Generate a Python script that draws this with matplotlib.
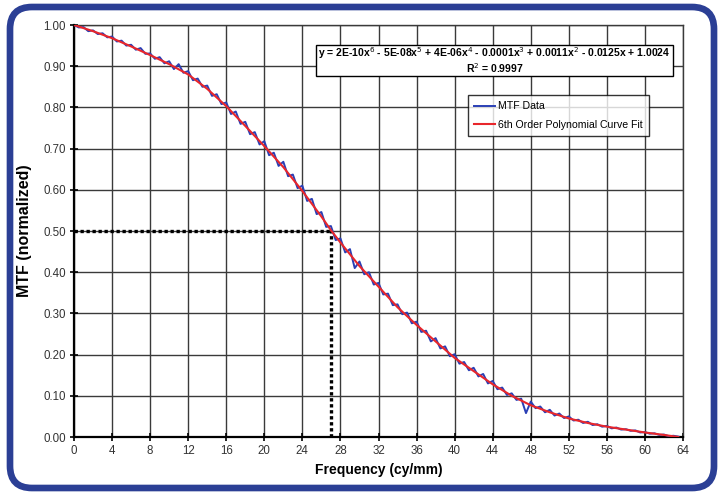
import matplotlib
matplotlib.use('Agg')
import matplotlib.pyplot as plt
from matplotlib.patches import FancyBboxPatch, Rectangle
import numpy as np

# 6th order polynomial fit
fit_freq = [0, 2, 4, 6, 8, 10, 12, 14, 16, 18, 20, 22, 24, 26, 27, 28, 30, 32, 34,
            36, 38, 40, 42, 44, 46, 48, 50, 52, 54, 56, 58, 60, 62, 63.5]
fit_mtf = [1.000, 0.985, 0.968, 0.948, 0.927, 0.905, 0.880, 0.845, 0.803, 0.755,
           0.706, 0.655, 0.597, 0.535, 0.502, 0.472, 0.415, 0.365, 0.315, 0.272,
           0.232, 0.192, 0.160, 0.128, 0.100, 0.077, 0.060, 0.045, 0.034, 0.025,
           0.018, 0.011, 0.005, 0.000]

# measured MTF data, every 0.5 cy/mm
data_freq = np.arange(0, 64, 0.5)
data_mtf = [1.000, 0.994, 0.995, 0.985, 0.987, 0.978, 0.980, 0.970, 0.972, 0.960,
            0.962, 0.950, 0.952, 0.940, 0.944, 0.930, 0.931, 0.918, 0.922, 0.907,
            0.912, 0.893, 0.905, 0.884, 0.888, 0.866, 0.870, 0.850, 0.853, 0.828,
            0.832, 0.808, 0.812, 0.784, 0.790, 0.760, 0.765, 0.735, 0.740, 0.710,
            0.718, 0.684, 0.690, 0.658, 0.668, 0.633, 0.637, 0.604, 0.610, 0.573,
            0.578, 0.541, 0.546, 0.510, 0.512, 0.478, 0.482, 0.448, 0.456, 0.410,
            0.426, 0.395, 0.400, 0.370, 0.374, 0.346, 0.348, 0.320, 0.322, 0.298,
            0.302, 0.276, 0.280, 0.255, 0.258, 0.232, 0.240, 0.215, 0.220, 0.196,
            0.201, 0.178, 0.182, 0.162, 0.168, 0.147, 0.153, 0.130, 0.136, 0.116,
            0.120, 0.102, 0.106, 0.090, 0.093, 0.058, 0.086, 0.070, 0.074, 0.060,
            0.066, 0.052, 0.057, 0.046, 0.050, 0.040, 0.042, 0.034, 0.037, 0.029,
            0.031, 0.025, 0.027, 0.021, 0.023, 0.018, 0.019, 0.015, 0.016, 0.011,
            0.012, 0.008, 0.009, 0.005, 0.006, 0.002, 0.003, 0.001]

f50 = 27.0
xticks = np.arange(0, 65, 4)
yticks = np.arange(0, 1.01, 0.1)

plt.rcParams['font.family'] = ['Liberation Sans', 'DejaVu Sans']

fig = plt.figure(figsize=(7.22, 4.93), dpi=100)

# rounded blue frame, drawn in pixel units
bg = fig.add_axes([0, 0, 1, 1])
bg.set_xlim(0, 722)
bg.set_ylim(0, 493)
bg.axis('off')
frame = FancyBboxPatch((10, 5), 704, 481, boxstyle="round,pad=0,rounding_size=22",
                       facecolor='white', edgecolor='#2b3f95', linewidth=4.8)
bg.add_patch(frame)

ax = fig.add_axes([74/722, 1 - 437/493, 609/722, 412/493])
ax.set_facecolor('none')
ax.plot(data_freq, data_mtf, color='#2a3fb5', linewidth=1.4, zorder=3, label='MTF Data')
ax.plot(fit_freq, fit_mtf, color='#e8262b', linewidth=1.5, zorder=4,
        label='6th Order Polynomial Curve Fit')
ax.plot([0, f50], [0.5, 0.5], color='black', linestyle=(0, (1, 0.8)), linewidth=2.4, zorder=2)
ax.plot([f50, f50], [0, 0.5], color='black', linestyle=(0, (1, 0.8)), linewidth=2.4, zorder=2)

ax.set_xlim(0, 64)
ax.set_ylim(0, 1.0)
ax.set_xticks(xticks)
ax.set_yticks(yticks)
ax.set_yticklabels(['%.2f' % v for v in yticks])
ax.grid(color='#3a3a3a', linewidth=1.0)
ax.set_axisbelow(True)
ax.tick_params(direction='inout', length=6, width=1.2, labelsize=8.3, colors='black',
               labelcolor='#333333', pad=3)
for s in ['left', 'bottom']:
    ax.spines[s].set_linewidth(1.6)
    ax.spines[s].set_color('black')
for s in ['top', 'right']:
    ax.spines[s].set_linewidth(1.0)
    ax.spines[s].set_color('#3a3a3a')

ax.set_xlabel('Frequency (cy/mm)', fontsize=10, fontweight='bold', labelpad=4)
ax.set_ylabel('MTF (normalized)', fontsize=11.5, fontweight='bold', labelpad=8)

# equation box
eq_left, eq_right = (316 - 74) / 609, (673 - 74) / 609
eq_bot, eq_top = (437 - 76) / 412, (437 - 45) / 412
ax.add_patch(Rectangle((eq_left, eq_bot), eq_right - eq_left, eq_top - eq_bot,
                       transform=ax.transAxes, facecolor='white', edgecolor='black',
                       linewidth=1.0, zorder=5))
eq = (r'y = 2E-10x$^{6}$ - 5E-08x$^{5}$ + 4E-06x$^{4}$ - 0.0001x$^{3}$ + 0.0011x$^{2}$'
      r' - 0.0125x + 1.0024')
ax.text((eq_left + eq_right) / 2, (437 - 53) / 412, eq, transform=ax.transAxes,
        ha='center', va='center', fontsize=7.5, fontweight='bold', zorder=6)
ax.text((eq_left + eq_right) / 2, (437 - 68) / 412, r'R$^{2}$ = 0.9997', transform=ax.transAxes,
        ha='center', va='center', fontsize=7.5, fontweight='bold', zorder=6)

leg = ax.legend(loc='upper left', bbox_to_anchor=((468 - 74) / 609, (437 - 95) / 412),
                fontsize=7.6, frameon=True, fancybox=False, edgecolor='black',
                handlelength=2.0, handletextpad=0.2, borderpad=0.6, labelspacing=0.8,
                borderaxespad=0)
leg.get_frame().set_linewidth(1.0)
leg.set_zorder(7)

fig.savefig('out.png', dpi=100)
